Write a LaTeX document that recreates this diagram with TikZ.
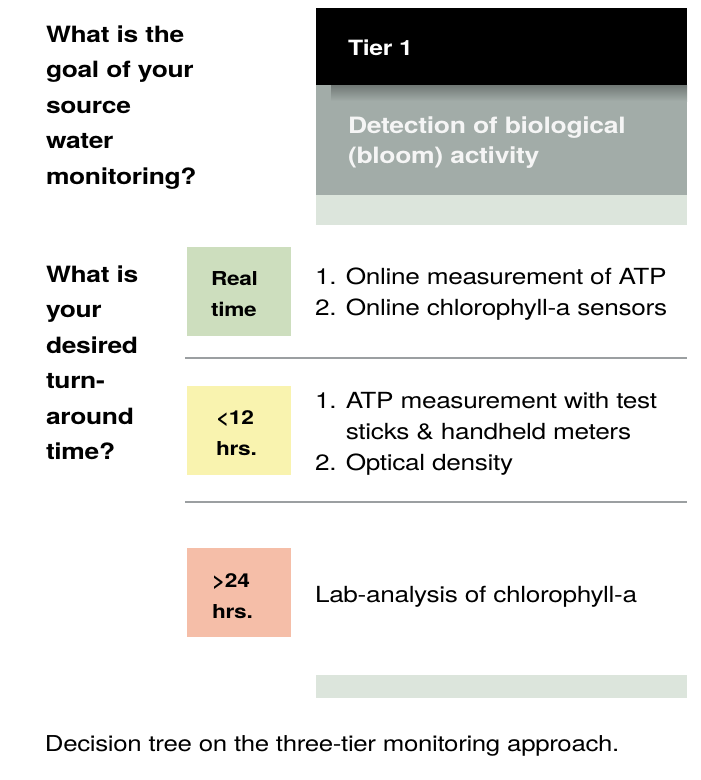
\documentclass[tikz,border=0pt]{standalone}
\usepackage{fontspec}
\setmainfont[FakeStretch=1.18,LetterSpace=-1.5]{TeX Gyre Heros}
\definecolor{tierblack}{RGB}{0,0,0}
\definecolor{tiergray}{RGB}{162,172,168}
\definecolor{shadowgray}{RGB}{112,120,117}
\definecolor{paleband}{RGB}{220,229,220}
\definecolor{rtgreen}{RGB}{205,222,190}
\definecolor{hyellow}{RGB}{249,243,175}
\definecolor{dsalmon}{RGB}{245,190,168}
\definecolor{sepgray}{RGB}{155,159,161}
\newcommand\stackL[1]{\vtop{\halign{##\hfil\cr#1\crcr}}}
\begin{document}
\begin{tikzpicture}[x=1pt,y=-1pt,
  panel/.style={rectangle,draw=none,inner sep=0pt,outer sep=0pt},
  txt/.style={inner sep=0pt,outer sep=0pt,anchor=base west},
  question/.style={txt,font=\fontsize{22.4}{35.5}\selectfont\bfseries},
  tiertitle/.style={txt,text=white,font=\fontsize{21}{30}\selectfont\bfseries},
  tiergoal/.style={txt,text=white!96!black,font=\fontsize{22.5}{30}\selectfont\bfseries},
  timelabel/.style={txt,font=\fontsize{19.2}{31}\selectfont\bfseries},
  method/.style={txt,font=\fontsize{22.2}{31}\selectfont},
  caption/.style={txt,font=\fontsize{21.9}{25}\selectfont},
  sep/.style={draw=sepgray,line width=1.8pt}]
\useasboundingbox[fill=white] (0,0) rectangle (701,780);

% tier column
\node[panel,fill=tierblack,minimum width=371pt,minimum height=77pt] (tierhead) at (501.5,46.5) {};
\node[panel,fill=tiergray,minimum width=371pt,minimum height=110pt] (tierbody) at (501.5,140) {};
\shade[top color=shadowgray,bottom color=tiergray] (331,85) rectangle (687,101);
\node[panel,fill=paleband,minimum width=371pt,minimum height=30pt] (topband) at (501.5,210) {};
\node[panel,fill=paleband,minimum width=371pt,minimum height=23pt] (bottomband) at (501.5,686.5) {};

\node[tiertitle] (tiername) at (348,55) {Tier 1};
\node[tiergoal] (tiertext) at (348,133) {\stackL{Detection of biological\cr (bloom) activity}};

% questions
\node[question] (q1) at (46,42) {\stackL{What is the\cr goal of your\cr source\cr water\cr monitoring?}};
\node[question] (q2) at (46,282) {\stackL{What is\cr your\cr desired\cr turn-\cr around\cr time?}};

% turnaround boxes
\node[panel,fill=rtgreen,minimum width=104pt,minimum height=89pt] (realbox) at (239,291.5) {};
\node[panel,fill=hyellow,minimum width=104pt,minimum height=89pt] (twelvebox) at (239,430.5) {};
\node[panel,fill=dsalmon,minimum width=104pt,minimum height=89pt] (daybox) at (239,592.5) {};

\node[timelabel] (realtxt) at (211,285.5) {\stackL{Real\cr time}};
\node[timelabel] (twelvetxt) at (216,424) {\stackL{<12\cr hrs.}};
\node[timelabel] (daytxt) at (212,587) {\stackL{>24\cr hrs.}};

% methods
\node[method] (m1) at (315,284) {\stackL{1. Online measurement of ATP\cr 2. Online chlorophyll-a sensors}};
\node[method] (m2) at (315,408) {\stackL{1. ATP measurement with test\cr \hphantom{1. }sticks \& handheld meters\cr 2. Optical density}};
\node[method] (m3) at (315,602) {Lab-analysis of chlorophyll-a};

% separators
\coordinate (sepAl) at (185,358);
\coordinate (sepAr) at (687,358);
\coordinate (sepBl) at (185,502);
\coordinate (sepBr) at (687,502);
\draw[sep] (sepAl) -- (sepAr);
\draw[sep] (sepBl) -- (sepBr);

% caption
\node[caption] (cap) at (45,751) {Decision tree on the three-tier monitoring approach.};
\end{tikzpicture}
\end{document}
